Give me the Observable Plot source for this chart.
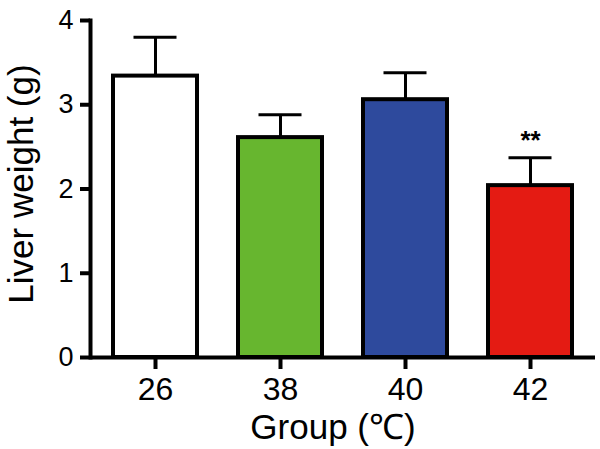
<!DOCTYPE html>
<html>
<head>
<meta charset="utf-8">
<script src="https://cdn.jsdelivr.net/npm/d3@7"></script>
<script src="https://cdn.jsdelivr.net/npm/@observablehq/plot@0.6"></script>
<style>
  html, body { margin: 0; padding: 0; background: #ffffff; }
</style>
</head>
<body>
<div id="chart"></div>
<script>
const groups = ["26", "38", "40", "42"];
const means = [3.34, 2.61, 3.06, 2.04];
const sems = [0.46, 0.27, 0.32, 0.33];
const barColors = ["#ffffff", "#67b62f", "#2e4a9d", "#e41b13"];
const sigMarks = ["", "", "", "**"];
const yTicks = [0, 1, 2, 3, 4];
const xLabel = "Group (℃)";
const yLabel = "Liver weight (g)";

const data = groups.map((g, i) => ({
  group: g,
  mean: means[i],
  top: means[i] + sems[i],
  color: barColors[i],
  sig: sigMarks[i]
}));

const chart = Plot.plot({
  width: 600,
  height: 449,
  marginLeft: 90,
  marginRight: 5,
  marginTop: 20,
  marginBottom: 92,
  style: { fontFamily: "'Liberation Sans', Arial, sans-serif", background: "#ffffff", color: "#000000" },
  x: { domain: groups, paddingInner: 0.3265, paddingOuter: 0.172, align: 0.5, axis: null },
  y: { domain: [0, 4], axis: null },
  color: { type: "identity" },
  marks: [
    Plot.ruleX(data, { x: "group", y1: "mean", y2: "top", stroke: "#000", strokeWidth: 3 }),
    Plot.tickY(data, { x: "group", y: "top", stroke: "#000", strokeWidth: 3, insetLeft: 20.5, insetRight: 20.5 }),
    Plot.barY(data, { x: "group", y: "mean", fill: "color", stroke: "#000", strokeWidth: 4 }),
    Plot.ruleY([0], { stroke: "#000", strokeWidth: 4 }),
    Plot.frame({ anchor: "left", stroke: "#000", strokeWidth: 4 }),
    Plot.axisY({ ticks: yTicks, tickFormat: d3.format("d"), tickSize: 10, tickPadding: 7, fontSize: 27, strokeWidth: 4, label: null }),
    Plot.axisX({ tickSize: 12, tickPadding: 8, fontSize: 32, strokeWidth: 4, label: null }),
    Plot.text(data, { x: "group", y: "top", text: "sig", dy: -9, lineAnchor: "bottom", fontSize: 26, fontWeight: "bold" }),
    Plot.text([xLabel], { text: d => d, frameAnchor: "bottom", textAnchor: "middle", dx: -10, dy: 70, lineAnchor: "middle", fontSize: 35 }),
    Plot.text([yLabel], { text: d => d, frameAnchor: "left", textAnchor: "middle", rotate: -90, dx: -69, dy: -5, lineAnchor: "middle", fontSize: 35 })
  ]
});
document.getElementById("chart").appendChild(chart);
</script>
</body>
</html>
